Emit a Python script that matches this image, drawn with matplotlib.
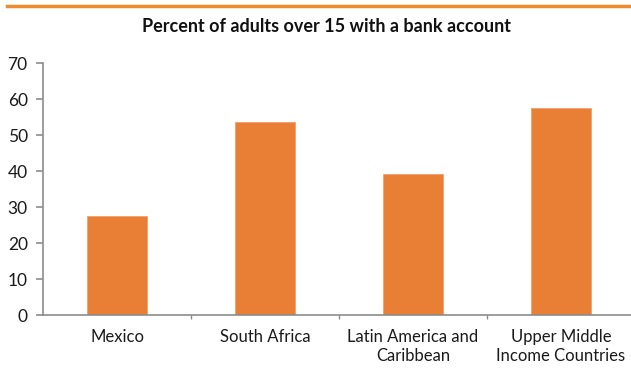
import matplotlib
matplotlib.use("Agg")
import matplotlib.pyplot as plt
from matplotlib.lines import Line2D

regions = ["Mexico", "South Africa", "Latin America and\nCaribbean", "Upper Middle\nIncome Countries"]
pct_bank_account = [27.5, 53.7, 39.3, 57.4]
yticks = [0, 10, 20, 30, 40, 50, 60, 70]

plt.rcParams["font.family"] = ["Lato", "DejaVu Sans"]

W, H = 631, 372
fig = plt.figure(figsize=(W / 100, H / 100), dpi=100)
ax = fig.add_axes([43 / W, 57 / H, 592 / W, 252 / H])

x = range(len(regions))
ax.bar(x, pct_bank_account, width=0.4, color="#E97E35", edgecolor="#F2A070", linewidth=0.6)

ax.set_xlim(-0.5, 3.5)
ax.set_ylim(0, 70)
ax.set_yticks(yticks)
ax.set_xticks([0.5, 1.5, 2.5, 3.5])
ax.set_xticklabels([])
ax.set_xticks(list(x), labels=regions, minor=True)
for lbl in ax.get_xticklabels(minor=True):
    lbl.set_linespacing(1.25)

axis_color = "#8C8C8C"
for side in ["top", "right"]:
    ax.spines[side].set_visible(False)
for side in ["left", "bottom"]:
    ax.spines[side].set_color(axis_color)
    ax.spines[side].set_linewidth(1.2)

ax.tick_params(axis="y", direction="out", length=5, width=1.2, color=axis_color,
               labelsize=12.5, labelcolor="#1a1a1a", pad=6)
ax.tick_params(axis="x", which="major", direction="out", length=3, width=1.0, color=axis_color)
ax.tick_params(axis="x", which="minor", length=0, labelsize=12, labelcolor="#1a1a1a", pad=10)

fig.text(327 / W, 1 - 26 / H, "Percent of adults over 15 with a bank account",
         ha="center", va="center", fontsize=13, fontweight="bold", color="#111111")

# orange rule across the top
fig.add_artist(Line2D([7 / W, 1.0], [1 - 6 / H, 1 - 6 / H], color="#F08A2C", linewidth=2.5,
                      transform=fig.transFigure))

fig.savefig("out.png", dpi=100)
